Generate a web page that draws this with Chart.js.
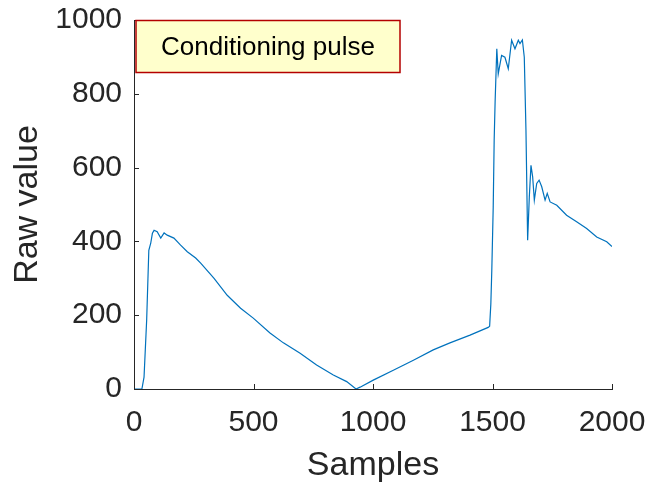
<!DOCTYPE html>
<html>
<head>
<meta charset="utf-8">
<script src="https://cdn.jsdelivr.net/npm/chart.js@4/dist/chart.umd.min.js"></script>
<style>
  html, body { margin: 0; padding: 0; background: #fff; }
</style>
</head>
<body>
<canvas id="raw-chart" width="654" height="486"></canvas>
<script>
// sample index / raw reading
const samples = [0, 33, 42, 53, 62, 70, 77, 84, 97, 112, 126, 139, 167, 195, 223, 258, 279, 335, 390, 446, 499,
  569, 625, 695, 764, 834, 890, 929, 946, 1001, 1085, 1169, 1252, 1322, 1406, 1482,
  1488, 1493, 1497, 1503, 1507, 1511, 1518, 1524, 1538, 1552, 1566, 1580, 1594, 1608, 1615, 1625, 1633,
  1640, 1647, 1654, 1661, 1668, 1675, 1685, 1695, 1706, 1720, 1729, 1741, 1769, 1810, 1852, 1894, 1936, 1978, 2000];
const rawValues = [0, 0, 32, 187, 376, 395, 422, 430, 426, 409, 423, 417, 409, 390, 372, 355, 341, 300, 254, 219, 192,
  152, 125, 97, 65, 38, 20, 0, 5, 24, 51, 78, 106, 125, 146, 167,
  170, 230, 320, 493, 674, 780, 922, 854, 904, 899, 868, 945, 922, 945, 936, 946, 899,
  701, 403, 520, 606, 575, 512, 557, 566, 548, 512, 530, 507, 498, 471, 453, 435, 412, 399, 386];
const xTicks = [0, 500, 1000, 1500, 2000];
const yTicks = [0, 200, 400, 600, 800, 1000];
const noteText = 'Conditioning pulse';

const axisColor = '#262626';
const fontFamily = '"Liberation Sans", Arial, sans-serif';

// MATLAB-style inward tick marks
const innerTicks = {
  id: 'innerTicks',
  afterDraw(chart) {
    const c = chart.ctx;
    const xs = chart.scales.x, ys = chart.scales.y;
    c.save();
    c.strokeStyle = axisColor;
    c.lineWidth = 1;
    c.beginPath();
    xTicks.forEach(v => {
      const px = Math.round(xs.getPixelForValue(v)) + 0.5;
      c.moveTo(px, ys.bottom);
      c.lineTo(px, ys.bottom - 5);
    });
    yTicks.forEach(v => {
      const py = Math.round(ys.getPixelForValue(v)) + 0.5;
      c.moveTo(xs.left, py);
      c.lineTo(xs.left + 5, py);
    });
    c.stroke();
    c.restore();
  }
};

// text box in the top left corner
const noteBox = {
  id: 'noteBox',
  afterDraw(chart) {
    const c = chart.ctx;
    const a = chart.chartArea;
    const x = a.left + 2, y = a.top + 0.5, w = 264, h = 52;
    c.save();
    c.fillStyle = '#ffffcc';
    c.fillRect(x, y, w, h);
    c.strokeStyle = '#b40000';
    c.lineWidth = 1.5;
    c.strokeRect(x, y, w, h);
    c.fillStyle = '#000';
    c.font = '26px ' + fontFamily;
    c.textAlign = 'center';
    c.textBaseline = 'middle';
    c.fillText(noteText, x + w / 2, y + h / 2 + 1);
    c.restore();
  }
};

const ctx = document.getElementById('raw-chart').getContext('2d');
new Chart(ctx, {
  type: 'line',
  data: {
    datasets: [{
      data: samples.map((s, i) => ({ x: s, y: rawValues[i] })),
      borderColor: '#0072bd',
      borderWidth: 1.2,
      pointRadius: 0,
      tension: 0,
      fill: false
    }]
  },
  options: {
    responsive: false,
    animation: false,
    layout: { padding: { left: 0, top: 20, right: 42, bottom: 0 } },
    plugins: { legend: { display: false }, tooltip: { enabled: false } },
    scales: {
      x: {
        type: 'linear',
        min: 0,
        max: 2000,
        afterBuildTicks: s => { s.ticks = xTicks.map(v => ({ value: v })); },
        afterFit: s => { s.height = 97; s.paddingLeft = 0; s.paddingRight = 0; },
        grid: { drawOnChartArea: false, drawTicks: false },
        border: { color: axisColor, width: 1 },
        ticks: { color: axisColor, padding: 16, maxRotation: 0, callback: v => String(v),
          font: { family: fontFamily, size: 30 } },
        title: { display: true, text: 'Samples', color: axisColor, padding: { top: 0, bottom: 0 },
          font: { family: fontFamily, size: 34 } }
      },
      y: {
        min: 0,
        max: 1000,
        afterBuildTicks: s => { s.ticks = yTicks.map(v => ({ value: v })); },
        afterFit: s => { s.width = 134; s.paddingTop = 0; s.paddingBottom = 0; },
        grid: { drawOnChartArea: false, drawTicks: false },
        border: { color: axisColor, width: 1 },
        ticks: { color: axisColor, padding: 12, callback: v => String(v),
          font: { family: fontFamily, size: 30 } },
        title: { display: true, text: 'Raw value', color: axisColor, padding: { top: 7, bottom: 0 },
          font: { family: fontFamily, size: 34 } }
      }
    }
  },
  plugins: [innerTicks, noteBox]
});
</script>
</body>
</html>
